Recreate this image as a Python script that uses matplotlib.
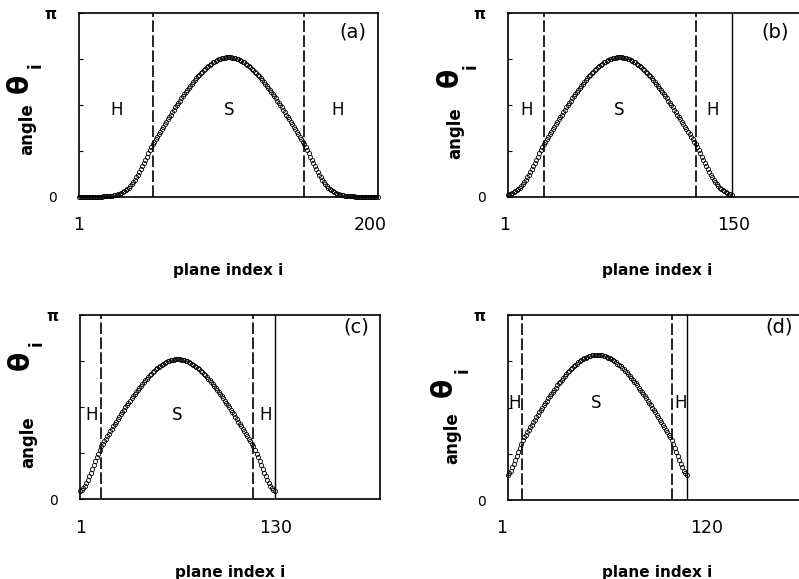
import matplotlib
matplotlib.use("Agg")
import matplotlib.pyplot as plt
import matplotlib.transforms as mtrans
import numpy as np

# ---------------- data (angle theta_i in units of pi) ----------------
theta_a = [
    0.000, 0.000, 0.000, 0.000, 0.000, 0.000, 0.000, 0.000, 0.000, 0.000,
    0.001, 0.001, 0.001, 0.001, 0.002, 0.002, 0.003, 0.003, 0.004, 0.005,
    0.006, 0.007, 0.008, 0.009, 0.011, 0.013, 0.016, 0.019, 0.022, 0.026,
    0.031, 0.036, 0.043, 0.050, 0.059, 0.069, 0.080, 0.093, 0.106, 0.121,
    0.136, 0.152, 0.169, 0.186, 0.203, 0.220, 0.237, 0.254, 0.271,
    0.287, 0.300, 0.314, 0.328, 0.342, 0.355, 0.369, 0.382, 0.396, 0.409,
    0.422, 0.435, 0.448, 0.461, 0.474, 0.487, 0.499, 0.512, 0.524, 0.536,
    0.548, 0.560, 0.571, 0.583, 0.594, 0.605, 0.615, 0.626, 0.636, 0.646,
    0.655, 0.665, 0.673, 0.682, 0.690, 0.698, 0.705, 0.712, 0.719, 0.725,
    0.731, 0.736, 0.741, 0.745, 0.749, 0.752, 0.755, 0.757, 0.758, 0.759, 0.760,
    0.760, 0.759, 0.758, 0.757, 0.755, 0.752, 0.749, 0.745, 0.741, 0.736,
    0.731, 0.725, 0.719, 0.712, 0.705, 0.698, 0.690, 0.682, 0.673, 0.665,
    0.655, 0.646, 0.636, 0.626, 0.615, 0.605, 0.594, 0.583, 0.571, 0.560,
    0.548, 0.536, 0.524, 0.512, 0.499, 0.487, 0.474, 0.461, 0.448, 0.435,
    0.422, 0.409, 0.396, 0.382, 0.369, 0.355, 0.342, 0.328, 0.314, 0.300, 0.287,
    0.271, 0.254, 0.237, 0.220, 0.203, 0.186, 0.169, 0.152, 0.136,
    0.121, 0.106, 0.093, 0.080, 0.069, 0.059, 0.050, 0.043, 0.036, 0.031,
    0.026, 0.022, 0.019, 0.016, 0.013, 0.011, 0.009, 0.008, 0.007, 0.006,
    0.005, 0.004, 0.003, 0.003, 0.002, 0.002, 0.001, 0.001, 0.001, 0.001,
    0.000, 0.000, 0.000, 0.000, 0.000, 0.000, 0.000, 0.000, 0.000, 0.000,
]

theta_b = [
    0.013, 0.016, 0.019, 0.022, 0.026, 0.031, 0.036, 0.043, 0.050, 0.059,
    0.069, 0.080, 0.093, 0.106, 0.121, 0.136, 0.152, 0.169, 0.186, 0.203,
    0.220, 0.237, 0.254, 0.271,
    0.287, 0.300, 0.314, 0.328, 0.342, 0.355, 0.369, 0.382, 0.396, 0.409,
    0.422, 0.435, 0.448, 0.461, 0.474, 0.487, 0.499, 0.512, 0.524, 0.536,
    0.548, 0.560, 0.571, 0.583, 0.594, 0.605, 0.615, 0.626, 0.636, 0.646,
    0.655, 0.665, 0.673, 0.682, 0.690, 0.698, 0.705, 0.712, 0.719, 0.725,
    0.731, 0.736, 0.741, 0.745, 0.749, 0.752, 0.755, 0.757, 0.758, 0.759, 0.760,
    0.760, 0.759, 0.758, 0.757, 0.755, 0.752, 0.749, 0.745, 0.741, 0.736,
    0.731, 0.725, 0.719, 0.712, 0.705, 0.698, 0.690, 0.682, 0.673, 0.665,
    0.655, 0.646, 0.636, 0.626, 0.615, 0.605, 0.594, 0.583, 0.571, 0.560,
    0.548, 0.536, 0.524, 0.512, 0.499, 0.487, 0.474, 0.461, 0.448, 0.435,
    0.422, 0.409, 0.396, 0.382, 0.369, 0.355, 0.342, 0.328, 0.314, 0.300, 0.287,
    0.271, 0.254, 0.237, 0.220, 0.203, 0.186, 0.169, 0.152, 0.136, 0.121,
    0.106, 0.093, 0.080, 0.069, 0.059, 0.050, 0.043, 0.036, 0.031, 0.026,
    0.022, 0.019, 0.016, 0.013,
]

theta_c = [
    0.047, 0.052, 0.061, 0.073, 0.088, 0.105, 0.124, 0.144, 0.165, 0.186,
    0.207, 0.228, 0.248, 0.268,
    0.287, 0.300, 0.314, 0.328, 0.342, 0.355, 0.369, 0.382, 0.396, 0.409,
    0.422, 0.435, 0.448, 0.461, 0.474, 0.487, 0.499, 0.512, 0.524, 0.536,
    0.548, 0.560, 0.571, 0.583, 0.594, 0.605, 0.615, 0.626, 0.636, 0.646,
    0.655, 0.665, 0.673, 0.682, 0.690, 0.698, 0.705, 0.712, 0.719, 0.725,
    0.731, 0.736, 0.741, 0.745, 0.749, 0.752, 0.755, 0.757, 0.758, 0.759, 0.760,
    0.760, 0.759, 0.758, 0.757, 0.755, 0.752, 0.749, 0.745, 0.741, 0.736,
    0.731, 0.725, 0.719, 0.712, 0.705, 0.698, 0.690, 0.682, 0.673, 0.665,
    0.655, 0.646, 0.636, 0.626, 0.615, 0.605, 0.594, 0.583, 0.571, 0.560,
    0.548, 0.536, 0.524, 0.512, 0.499, 0.487, 0.474, 0.461, 0.448, 0.435,
    0.422, 0.409, 0.396, 0.382, 0.369, 0.355, 0.342, 0.328, 0.314, 0.300, 0.287,
    0.268, 0.248, 0.228, 0.207, 0.186, 0.165, 0.144, 0.124, 0.105, 0.088,
    0.073, 0.061, 0.052, 0.047,
]

theta_d = [
    0.135, 0.145, 0.159, 0.176, 0.195, 0.216, 0.237, 0.259, 0.281, 0.303,
    0.325, 0.339, 0.353, 0.367, 0.380, 0.394, 0.407, 0.421, 0.434, 0.447,
    0.460, 0.473, 0.486, 0.499, 0.512, 0.524, 0.537, 0.549, 0.561, 0.573,
    0.585, 0.596, 0.608, 0.619, 0.630, 0.640, 0.651, 0.661, 0.671, 0.680,
    0.690, 0.698, 0.707, 0.715, 0.723, 0.730, 0.737, 0.744, 0.750, 0.756,
    0.761, 0.766, 0.770, 0.774, 0.777, 0.780, 0.782, 0.783, 0.784, 0.785,
    0.785, 0.784, 0.783, 0.782, 0.780, 0.777, 0.774, 0.770, 0.766, 0.761,
    0.756, 0.750, 0.744, 0.737, 0.730, 0.723, 0.715, 0.707, 0.698, 0.690,
    0.680, 0.671, 0.661, 0.651, 0.640, 0.630, 0.619, 0.608, 0.596, 0.585,
    0.573, 0.561, 0.549, 0.537, 0.524, 0.512, 0.499, 0.486, 0.473, 0.460,
    0.447, 0.434, 0.421, 0.407, 0.394, 0.380, 0.367, 0.353, 0.339, 0.325,
    0.303, 0.281, 0.259, 0.237, 0.216, 0.195, 0.176, 0.159, 0.145, 0.135,
]

panel_letters = ["(a)", "(b)", "(c)", "(d)"]
n_planes = [200, 150, 130, 120]
boundaries = [(50, 151), (25, 126), (15, 116), (10.5, 110.5)]
region_labels = ["H", "S", "H"]
x_tick_labels = [("1", "200"), ("1", "150"), ("1", "130"), ("1", "120")]
y_tick_labels = ["0", "π"]
x_label = "plane index i"
y_label_word = "angle"
y_label_symbol = "θ"
y_label_sub = "i"
thetas = [theta_a, theta_b, theta_c, theta_d]

# ---------------- layout ----------------
W, H = 799, 579
fig = plt.figure(figsize=(W / 100, H / 100), dpi=100)
plt.rcParams['font.family'] = ['DejaVu Sans']

def rect(l, t, r, b):
    return [l / W, 1 - b / H, (r - l) / W, (b - t) / H]

axes_px = [(79, 13, 378, 197), (507.7, 13, 806.7, 197),
           (80.3, 315, 380, 499.3), (507.7, 315, 807, 500)]
region_pos = [((26.3, 100.7, 173.0), 0.473), ((13.6, 75.4, 137.5), 0.473),
              ((8.6, 65.1, 124.2), 0.457), ((5.8, 60.0, 116.3), 0.523)]
letter_pos = [(183.6, 0.898), (178.9, 0.898), (184.3, 0.937), (181.5, 0.936)]
xtick_shift = [(-0.7, -8.0), (-2.7, 2.0), (0.0, 0.7), (-6.0, 20.0)]
ylab_off = [dict(angle=(-52, 116), theta=(-59, 70), sub=(-43, 52)),
            dict(angle=(-52, 120), theta=(-58, 64), sub=(-37, 53)),
            dict(angle=(-52, 127), theta=(-60, 45), sub=(-44, 28)),
            dict(angle=(-55, 123), theta=(-64, 72), sub=(-45, 55))]

for k in range(4):
    l, t, r, b = axes_px[k]
    ax = fig.add_axes(rect(l, t, r, b))
    th = thetas[k]
    idx = np.arange(1, len(th) + 1)
    ax.plot(idx, th, linestyle='none', marker='o', ms=3.0, mfc='none',
            mec='black', mew=0.6, clip_on=False, zorder=3)
    for xb in boundaries[k]:
        ax.axvline(xb, color='black', lw=1.2, ls=(0, (7, 2)), zorder=2)
    ax.axvline(n_planes[k], color='black', lw=1.0, zorder=2)
    ax.set_xlim(1, 200)
    ax.set_ylim(0, 1)
    for s in ax.spines.values():
        s.set_linewidth(1.2)
    ax.set_yticks([0, 0.25, 0.5, 0.75, 1.0])
    ax.set_yticklabels([y_tick_labels[0], "", "", "", y_tick_labels[1]])
    ax.tick_params(axis='y', direction='in', length=3, width=0.8, pad=16,
                   labelsize=10)
    ylabs = ax.get_yticklabels()
    ylabs[-1].set_fontweight('bold')
    ylabs[-1].set_fontsize(11)
    ax.set_xticks([1, n_planes[k]])
    ax.set_xticklabels(list(x_tick_labels[k]))
    ax.tick_params(axis='x', length=0, pad=14, labelsize=12.5)
    for lab, dx in zip(ax.get_xticklabels(), xtick_shift[k]):
        lab.set_transform(lab.get_transform() +
                          mtrans.ScaledTranslation(dx / 100, 0, fig.dpi_scale_trans))
    ax.set_xlabel(x_label, fontsize=11, fontweight='bold', va='center')
    ax.xaxis.set_label_coords(0.5, -73 / (b - t))

    xs, yh = region_pos[k]
    for txt, xv in zip(region_labels, xs):
        ax.text(xv, yh, txt, fontsize=12, ha='center', va='center')
    ax.text(letter_pos[k][0], letter_pos[k][1], panel_letters[k], fontsize=14,
            ha='center', va='center')

    off = ylab_off[k]
    fig.text((l + off['angle'][0]) / W, 1 - (t + off['angle'][1]) / H, y_label_word,
             rotation=90, fontsize=12, fontweight='bold', ha='center', va='center')
    fig.text((l + off['theta'][0]) / W, 1 - (t + off['theta'][1]) / H, y_label_symbol,
             rotation=90, fontsize=20, fontweight='bold', ha='center', va='center')
    fig.text((l + off['sub'][0]) / W, 1 - (t + off['sub'][1]) / H, y_label_sub,
             rotation=90, fontsize=12, fontweight='bold', ha='center', va='center')

fig.savefig("out.png", dpi=100)
